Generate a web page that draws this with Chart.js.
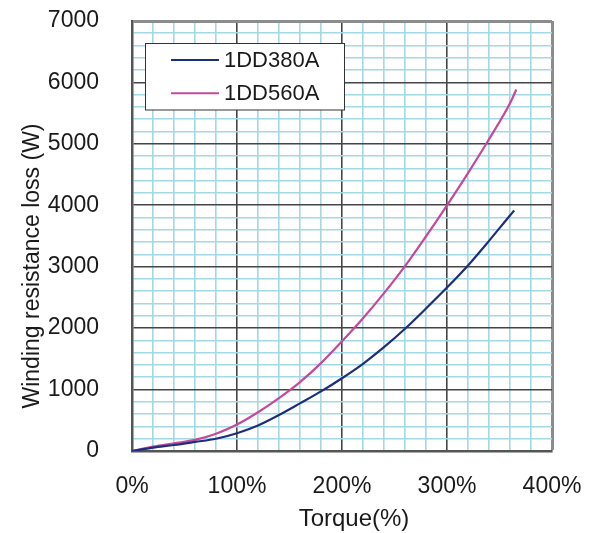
<!DOCTYPE html>
<html>
<head>
<meta charset="utf-8">
<script src="https://cdn.jsdelivr.net/npm/chart.js@4.4.1/dist/chart.umd.min.js"></script>
<style>
    body { margin: 0; background: #fff; }
    #wrap { width: 593px; height: 533px; }
</style>
</head>
<body>
<div id="wrap"><canvas id="chart_loss" width="593" height="533"></canvas></div>
<script>
// torque (%) vs winding resistance loss (W)
const torque380 = [0, 20, 40, 60, 80, 100, 120, 140, 160, 180, 200, 220, 240, 260, 280, 300, 320, 340, 360, 364];
const loss380 = [0, 55, 98, 148, 200, 290, 415, 585, 775, 970, 1185, 1420, 1690, 1990, 2320, 2660, 3020, 3420, 3835, 3915];
const torque560 = [0, 20, 40, 60, 80, 100, 120, 140, 160, 180, 200, 220, 240, 260, 280, 300, 320, 340, 360, 366];
const loss560 = [0, 71, 126, 180, 280, 430, 630, 860, 1120, 1430, 1785, 2160, 2570, 3010, 3495, 4000, 4525, 5075, 5660, 5885];
const seriesNames = ['1DD380A', '1DD560A'];
const seriesColors = ['#1c2f7c', '#c4489c'];
const xTitle = 'Torque(%)';
const yTitle = 'Winding resistance loss (W)';
const xMax = 400, xMinor = 20, xMajor = 100;
const yMax = 7000, yMinor = 200, yMajor = 1000;

const FONT = "'Liberation Sans', Arial, sans-serif";

const toPoints = (xs, ys) => xs.map((x, i) => ({x: x, y: ys[i]}));

// grid colours: black every major step, cyan for the minor ones, grey frame on the far edges
const gridColor = (major, max) => (ctx) => {
    const v = ctx.tick.value;
    if (v === max) return '#8c8c8c';
    return v % major === 0 ? '#454545' : '#a3d9e4';
};
const gridWidth = (max) => (ctx) => ctx.tick.value === max ? 3 : 1.6;

// legend box + axis titles drawn on the canvas at the reference spots
const extras = {
    id: 'extras',
    afterDraw(chart) {
        const c = chart.ctx;
        c.save();
        // axis titles
        c.fillStyle = '#1a1a1a';
        c.font = '24px ' + FONT;
        c.textAlign = 'center';
        c.textBaseline = 'alphabetic';
        c.fillText(xTitle, 354, 526);
        c.font = '23px ' + FONT;
        c.translate(39, 266);
        c.rotate(-Math.PI / 2);
        c.fillText(yTitle, 0, 0);
        c.restore();

        // legend
        c.save();
        c.fillStyle = '#fff';
        c.fillRect(145.5, 43.5, 199, 66.5);
        c.strokeStyle = '#333';
        c.lineWidth = 1;
        c.strokeRect(145.5, 43.5, 199, 66.5);
        c.font = '22px ' + FONT;
        c.textAlign = 'left';
        c.textBaseline = 'middle';
        chart.data.datasets.forEach((ds, i) => {
            const y = 60 + i * 33.3;
            c.strokeStyle = ds.borderColor;
            c.lineWidth = 2;
            c.beginPath();
            c.moveTo(171, y);
            c.lineTo(219, y);
            c.stroke();
            c.fillStyle = '#1a1a1a';
            c.fillText(ds.label, 224, y + 1);
        });
        c.restore();
    }
};

window.onload = () => {
    const ctx = document.getElementById('chart_loss').getContext('2d');
    new Chart(ctx, {
        type: 'line',
        data: {
            datasets: [
                {
                    label: seriesNames[0],
                    data: toPoints(torque380, loss380),
                    borderColor: seriesColors[0],
                    backgroundColor: seriesColors[0],
                },
                {
                    label: seriesNames[1],
                    data: toPoints(torque560, loss560),
                    borderColor: seriesColors[1],
                    backgroundColor: seriesColors[1],
                }
            ]
        },
        options: {
            responsive: false,
            animation: false,
            events: [],
            layout: { padding: { top: 21, right: 41, left: 0, bottom: 0 } },
            elements: {
                point: { radius: 0 },
                line: { borderWidth: 2.2, cubicInterpolationMode: 'monotone', fill: false }
            },
            plugins: {
                legend: { display: false },
                tooltip: { enabled: false }
            },
            scales: {
                x: {
                    type: 'linear',
                    min: 0,
                    max: xMax,
                    // fixed box so the plot lands where the reference has it
                    afterFit: (s) => { s.height = 82; s.paddingLeft = 0; s.paddingRight = 0; },
                    border: { color: '#555', width: 2.5 },
                    grid: { color: gridColor(xMajor, xMax), lineWidth: gridWidth(xMax), drawTicks: false },
                    ticks: {
                        stepSize: xMinor,
                        autoSkip: false,
                        maxRotation: 0,
                        padding: 22,
                        color: '#1a1a1a',
                        font: { family: FONT, size: 23 },
                        callback: (v) => v % xMajor === 0 ? v + '%' : ''
                    }
                },
                y: {
                    min: 0,
                    max: yMax,
                    afterFit: (s) => { s.width = 132; s.paddingTop = 0; s.paddingBottom = 0; },
                    border: { color: '#555', width: 2.5 },
                    grid: { color: gridColor(yMajor, yMax), lineWidth: gridWidth(yMax), drawTicks: false },
                    ticks: {
                        stepSize: yMinor,
                        autoSkip: false,
                        padding: 33,
                        color: '#1a1a1a',
                        font: { family: FONT, size: 23 },
                        callback: (v) => v % yMajor === 0 ? v : ''
                    }
                }
            }
        },
        plugins: [extras]
    });
};
</script>
</body>
</html>
